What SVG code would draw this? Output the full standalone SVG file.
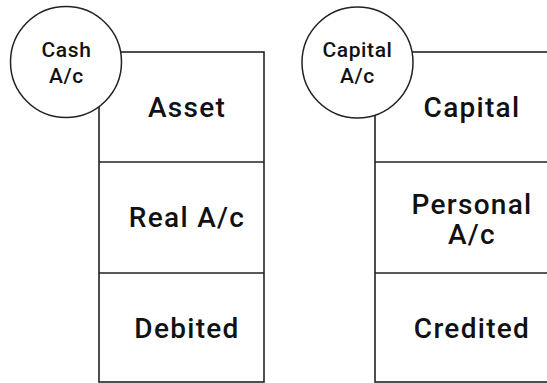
<svg xmlns="http://www.w3.org/2000/svg" width="547" height="383" viewBox="0 0 547 383">
  <style>
    .frame { fill: none; stroke: #222; stroke-width: 1.6; }
    .badge { fill: #fff; stroke: #222; stroke-width: 1.5; }
    .big { font-family: Roboto, "Liberation Sans", sans-serif; font-size: 28px; font-weight: 500; letter-spacing: 1.3px; fill: #111; text-anchor: middle; }
    .small { font-family: Roboto, "Liberation Sans", sans-serif; font-size: 21px; font-weight: 500; letter-spacing: 0.6px; fill: #111; text-anchor: middle; }
  </style>
  <rect width="547" height="383" fill="#fff"/>

  <!-- Cash account column -->
  <g id="cash-account">
    <rect class="frame" x="99" y="52" width="165" height="330"/>
    <line class="frame" x1="99" y1="162" x2="264" y2="162"/>
    <line class="frame" x1="99" y1="273" x2="264" y2="273"/>
    <text class="big" x="187" y="117">Asset</text>
    <text class="big" x="187" y="227">Real A/c</text>
    <text class="big" x="187" y="338">Debited</text>
  </g>
  <g id="cash-badge">
    <circle class="badge" cx="66" cy="62" r="55.5"/>
    <text class="small" x="66.5" y="57">Cash</text>
    <text class="small" x="66.5" y="83">A/c</text>
  </g>

  <!-- Capital account column -->
  <g id="capital-account">
    <rect class="frame" x="375" y="52" width="180" height="330"/>
    <line class="frame" x1="375" y1="162" x2="555" y2="162"/>
    <line class="frame" x1="375" y1="273" x2="555" y2="273"/>
    <text class="big" x="472" y="214">Personal</text>
    <text class="big" x="472" y="244">A/c</text>
    <text class="big" x="472" y="117">Capital</text>
    <text class="big" x="472" y="338">Credited</text>
  </g>
  <g id="capital-badge">
    <circle class="badge" cx="357.5" cy="62.5" r="55.5"/>
    <text class="small" x="357.5" y="57">Capital</text>
    <text class="small" x="357.5" y="83">A/c</text>
  </g>

  <g id="connectors"/>
</svg>
